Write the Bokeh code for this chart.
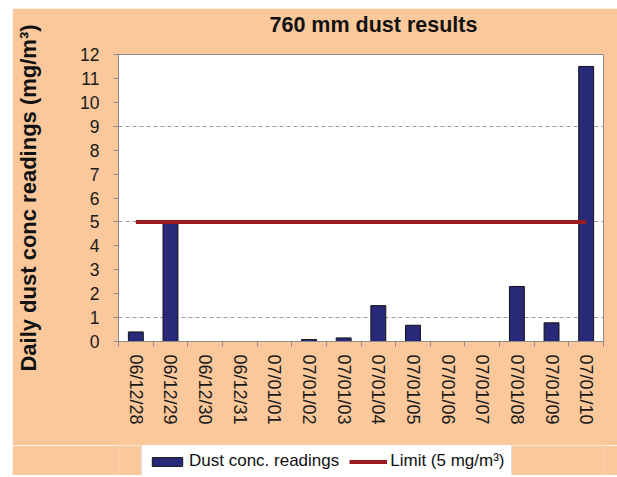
import numpy as np
from bokeh.plotting import figure
from bokeh.layouts import column
from bokeh.models import FixedTicker, Legend, LegendItem, ColumnDataSource, Title
from bokeh.embed import file_html
from bokeh.resources import INLINE

# ---- data ----
dates = ["06/12/28", "06/12/29", "06/12/30", "06/12/31", "07/01/01", "07/01/02", "07/01/03",
         "07/01/04", "07/01/05", "07/01/06", "07/01/07", "07/01/08", "07/01/09", "07/01/10"]
dust = [0.4, 5.0, 0.0, 0.0, 0.0, 0.08, 0.15, 1.5, 0.68, 0.0, 0.0, 2.3, 0.78, 11.5]
limit = 5
y_ticks = list(range(0, 13))
grid_levels = [1, 5, 9]

title_text = "760 mm dust  results"
y_label = "Daily dust conc readings (mg/m\u00b3)"
bar_label = "Dust conc. readings"
limit_label = "Limit (5 mg/m\u00b3)"

PEACH = "#FAC89B"
NAVY = "#29297A"
RED = "#9B1B20"
FONT = "Liberation Sans"

n = len(dates)
centers = np.arange(n) + 0.5
bounds = list(np.arange(n + 1))

src = ColumnDataSource(dict(x=centers, top=dust, date=dates))

p = figure(width=605, height=437, output_backend="svg", toolbar_location=None, title=title_text,
           x_range=(0, n), y_range=(0, 12), margin=(8, 0, 0, 12),
           min_border_left=106, min_border_right=14, min_border_top=46, min_border_bottom=104)
p.background_fill_color = "white"
p.border_fill_color = PEACH
p.outline_line_color = "#8a8a8a"
p.outline_line_width = 1

# real title, with a blank spacer title stacked between it and the plot area
p.title.align = "left"
p.title.offset = 151
p.title.standoff = 0
p.title.text_font = FONT
p.title.text_font_style = "bold"
p.title.text_font_size = "21.5px"
p.title.text_color = "#111111"
p.add_layout(Title(text=" ", standoff=0, text_font_size="14px"), "above")

bar_style = dict(fill_color=NAVY, line_color="#111111", line_width=1)
line_style = dict(line_color=RED, line_width=4)

p.vbar(x="x", top="top", width=0.43, source=src, **bar_style)
p.line(x=[centers[0], centers[-1]], y=[limit, limit], **line_style)

# grid
p.xgrid.visible = False
p.ygrid.ticker = FixedTicker(ticks=grid_levels)
p.ygrid.grid_line_color = "#9a9a9a"
p.ygrid.grid_line_dash = "4 3"
p.ygrid.grid_line_width = 1

# y axis
ya = p.yaxis[0]
ya.ticker = FixedTicker(ticks=y_ticks)
ya.axis_line_color = "#8a8a8a"
ya.major_tick_line_color = "#8a8a8a"
ya.major_tick_out = 5
ya.major_tick_in = 0
ya.minor_tick_line_color = None
ya.major_label_text_font = FONT
ya.major_label_text_font_size = "17.5px"
ya.major_label_text_color = "#1a1a1a"
ya.major_label_standoff = 14
ya.axis_label = y_label
ya.axis_label_text_font = FONT
ya.axis_label_text_font_style = "bold"
ya.axis_label_text_font_size = "22px"
ya.axis_label_text_color = "#111111"
ya.axis_label_standoff = 36

# x axis
xa = p.xaxis[0]
xa.ticker = FixedTicker(ticks=list(centers), minor_ticks=bounds)
xa.major_label_overrides = {float(c): d for c, d in zip(centers, dates)}
xa.major_label_orientation = "vertical"
xa.axis_line_color = "#8a8a8a"
xa.major_tick_line_color = None
xa.major_tick_out = 0
xa.major_tick_in = 0
xa.minor_tick_line_color = "#8a8a8a"
xa.minor_tick_out = 5
xa.minor_tick_in = 0
xa.major_label_text_font = FONT
xa.major_label_text_font_size = "18px"
xa.major_label_text_color = "#1a1a1a"
xa.major_label_standoff = 8

# legend strip (separate small figure below the chart; its glyphs lie outside its view)
lg = figure(width=605, height=30, output_backend="svg", toolbar_location=None,
            x_range=(1000, 1001), y_range=(1000, 1001), x_axis_type=None, y_axis_type=None,
            margin=(0, 0, 0, 12), min_border=0)
lg.background_fill_color = PEACH
lg.border_fill_color = PEACH
lg.outline_line_color = None
lg.xgrid.visible = False
lg.ygrid.visible = False
r_bar = lg.vbar(x="x", top="top", width=0.43, source=src, **bar_style)
r_line = lg.line(x="x", y="top", source=src, **line_style)

legend = Legend(items=[LegendItem(label=bar_label, renderers=[r_bar]),
                       LegendItem(label=limit_label, renderers=[r_line])],
                orientation="horizontal", location=(23, -3))
legend.label_text_font = FONT
legend.label_text_font_size = "17px"
legend.label_text_color = "#111111"
legend.glyph_width = 38
legend.glyph_height = 11
legend.label_standoff = 3
legend.spacing = 10
legend.padding = 6
legend.margin = 0
legend.border_line_color = "#bbbbbb"
legend.background_fill_color = "white"
legend.background_fill_alpha = 1
lg.add_layout(legend, "center")

layout = column(p, lg, spacing=0)

open("out.html", "w").write(file_html(layout, INLINE))
